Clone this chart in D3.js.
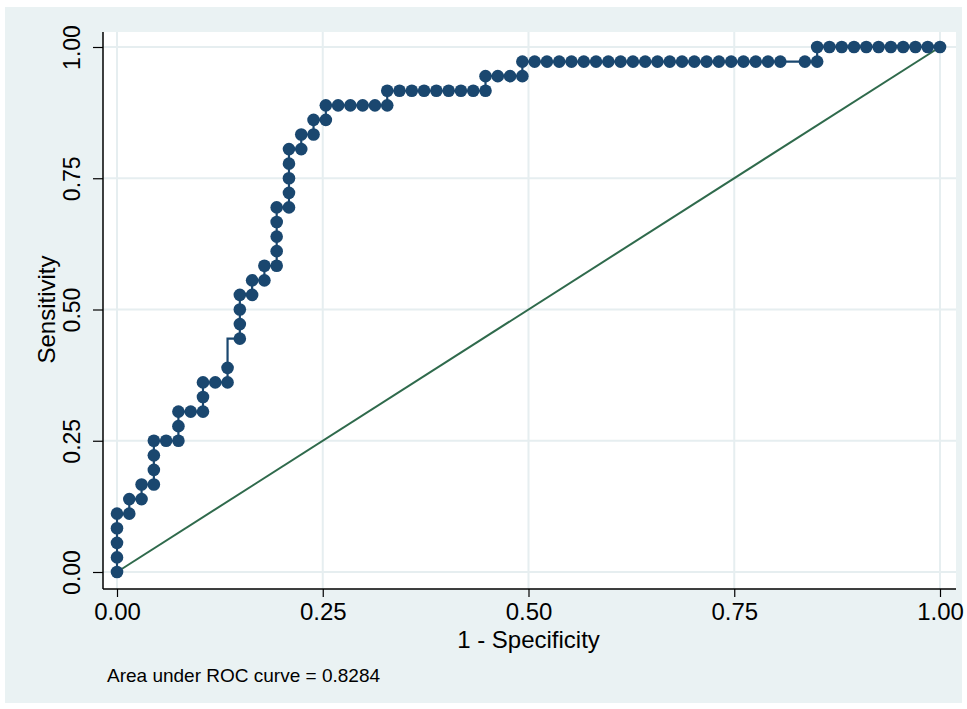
<!DOCTYPE html>
<html lang="en">
<head>
<meta charset="UTF-8">
<title>ROC curve</title>
<script src="https://cdn.jsdelivr.net/npm/d3@7"></script>
<style>
  body { margin: 0; background: #fff; }
  text { font-family: "Liberation Sans", Arial, sans-serif; fill: #000; }
</style>
</head>
<body>
<script>
// group sizes
var nNeg = 67;   // negatives -> x step 1/67
var nPos = 36;   // positives -> y step 1/36

// every marker of the curve, as counts (false positives, true positives)
var fpCount = [0,0,0,0,0, 1,1, 2,2, 3,3,3,3, 4, 5,5,5, 6, 7,7,7, 8, 9,9,9,
  10,10,10,10, 11,11, 12,12, 13,13,13,13,13, 14,14,14,14,14, 15,15, 16,16, 17,17,
  18,19,20,21,22, 22, 23,24,25,26,27,28,29,30, 30, 31,32,33, 33,
  34,35,36,37,38,39,40,41,42,43,44,45,46,47,48,49,50,51,52,53,54, 56,57, 57,
  58,59,60,61,62,63,64,65,66,67];
var tpCount = [0,1,2,3,4, 4,5, 5,6, 6,7,8,9, 9, 9,10,11, 11, 11,12,13, 13, 13,14,16,
  16,17,18,19, 19,20, 20,21, 21,22,23,24,25, 25,26,27,28,29, 29,30, 30,31, 31,32,
  32,32,32,32,32, 33, 33,33,33,33,33,33,33,33, 34, 34,34,34, 35,
  35,35,35,35,35,35,35,35,35,35,35,35,35,35,35,35,35,35,35,35,35, 35,35, 36,
  36,36,36,36,36,36,36,36,36,36];
// the point at (9,16) has no marker: only the line reaches it
var noMarker = [24];

var ticks = [0, 0.25, 0.5, 0.75, 1];
var tickLabels = ["0.00", "0.25", "0.50", "0.75", "1.00"];
var auc = 0.8284;

var width = 967, height = 709;
var navy = "#1a476f", green = "#2f6a4c", gridCol = "#e6eef0";

var svg = d3.select("body").append("svg")
  .attr("width", width).attr("height", height);

// graph region
svg.append("rect").attr("x", 5).attr("y", 7).attr("width", 957).attr("height", 696)
  .attr("fill", "#eaf2f3");

var plot = { left: 103, top: 32, right: 956, bottom: 589 };
svg.append("rect")
  .attr("x", plot.left).attr("y", plot.top)
  .attr("width", plot.right - plot.left).attr("height", plot.bottom - plot.top)
  .attr("fill", "#fff");

var x = d3.scaleLinear().domain([0, 1]).range([117, 940]);
var y = d3.scaleLinear().domain([0, 1]).range([572, 47]);

// grid
svg.append("g").selectAll("line").data(ticks).enter().append("line")
  .attr("x1", plot.left).attr("x2", plot.right)
  .attr("y1", d => y(d)).attr("y2", d => y(d))
  .attr("stroke", gridCol).attr("stroke-width", 2);
svg.append("g").selectAll("line").data(ticks).enter().append("line")
  .attr("y1", plot.top).attr("y2", plot.bottom)
  .attr("x1", d => x(d)).attr("x2", d => x(d))
  .attr("stroke", gridCol).attr("stroke-width", 2);

// axes
var xAxis = d3.axisBottom(x).tickValues(ticks).tickFormat((d, i) => tickLabels[i])
  .tickSize(8).tickPadding(6);
var gx = svg.append("g").attr("transform", "translate(0," + plot.bottom + ")").call(xAxis);
gx.select(".domain").remove();
gx.append("line").attr("x1", plot.left).attr("x2", plot.right)
  .attr("stroke", "#000").attr("stroke-width", 1.5);
gx.selectAll(".tick line").attr("stroke", "#000").attr("stroke-width", 1.2);
gx.selectAll(".tick text").attr("font-size", 24).attr("fill", "#000")
  .attr("font-family", "Liberation Sans, Arial, sans-serif");

var yAxis = d3.axisLeft(y).tickValues(ticks).tickFormat((d, i) => tickLabels[i])
  .tickSize(10).tickPadding(0);
var gy = svg.append("g").attr("transform", "translate(" + plot.left + ",0)").call(yAxis);
gy.select(".domain").remove();
gy.append("line").attr("y1", plot.top).attr("y2", plot.bottom)
  .attr("stroke", "#000").attr("stroke-width", 1.5);
gy.selectAll(".tick line").attr("stroke", "#000").attr("stroke-width", 1.2);
gy.selectAll(".tick text")
  .attr("font-size", 23).attr("fill", "#000")
  .attr("font-family", "Liberation Sans, Arial, sans-serif")
  .attr("x", null).attr("dy", null)
  .attr("text-anchor", "middle")
  .attr("transform", "translate(-23,0) rotate(-90)");

// axis titles and note
svg.append("text").attr("x", x(0.5)).attr("y", 648)
  .attr("text-anchor", "middle").attr("font-size", 24).text("1 - Specificity");
svg.append("text").attr("transform", "translate(55," + y(0.5) + ") rotate(-90)")
  .attr("text-anchor", "middle").attr("font-size", 24).text("Sensitivity");
svg.append("text").attr("x", 107).attr("y", 682)
  .attr("font-size", 19).text("Area under ROC curve = " + auc.toFixed(4));

// reference line
svg.append("line")
  .attr("x1", x(0)).attr("y1", y(0)).attr("x2", x(1)).attr("y2", y(1))
  .attr("stroke", green).attr("stroke-width", 2);

// curve
var pts = fpCount.map((d, i) => ({ fpr: d / nNeg, tpr: tpCount[i] / nPos, i: i }));
svg.append("path").datum(pts)
  .attr("fill", "none").attr("stroke", navy).attr("stroke-width", 2.2)
  .attr("d", d3.line().x(d => x(d.fpr)).y(d => y(d.tpr)));

svg.append("g").selectAll("circle")
  .data(pts.filter(d => noMarker.indexOf(d.i) < 0))
  .enter().append("circle")
  .attr("cx", d => x(d.fpr)).attr("cy", d => y(d.tpr))
  .attr("r", 6.3).attr("fill", navy);
</script>
</body>
</html>
